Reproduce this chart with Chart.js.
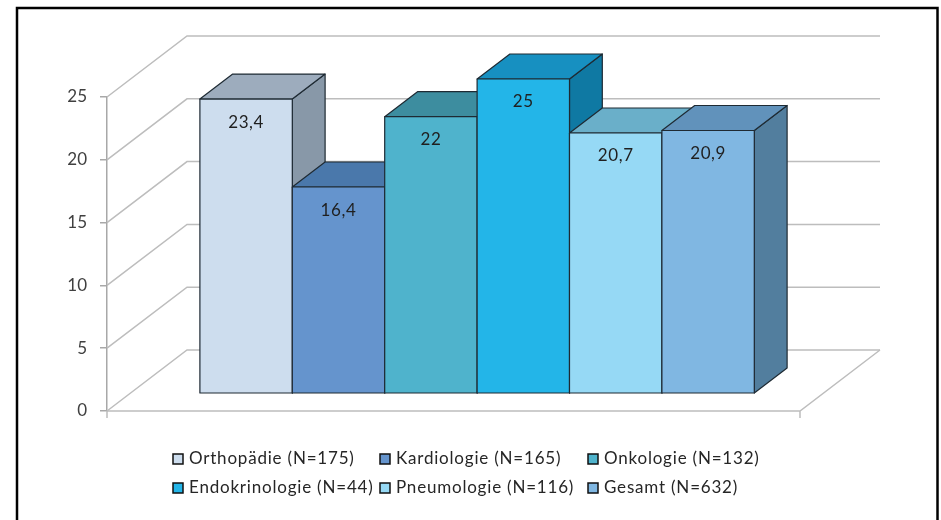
<!DOCTYPE html>
<html><head><meta charset="utf-8">
<script src="https://cdn.jsdelivr.net/npm/chart.js@4"></script>
<style>html,body{margin:0;padding:0;background:#fff}canvas{display:block}</style>
</head><body>
<canvas id="c" width="941" height="520"></canvas>
<script>
// Departments (series) and their values
const categories = ['Orthopädie (N=175)', 'Kardiologie (N=165)', 'Onkologie (N=132)', 'Endokrinologie (N=44)', 'Pneumologie (N=116)', 'Gesamt (N=632)'];
const values = [23.4, 16.4, 22, 25, 20.7, 20.9];
const yTicks = [0, 5, 10, 15, 20, 25];

// Face colours of each column: front, top, right side
const frontColors = ['#CDDDEE', '#6594CD', '#4FB3CC', '#23B5E8', '#96D9F5', '#80B7E2'];
const topColors   = ['#9DACBD', '#4A78AB', '#3D8D9F', '#1790C1', '#6AAFC9', '#6192BB'];
const sideColors  = ['#8898A8', '#3F6898', '#337A8A', '#0F79A3', '#5A97AD', '#527E9E'];

// 3D box: vector from the front axis plane to the back wall, and the column depth range
const DEPTH = { x: 80, y: -61 };
const BAR_FRONT = 0.295, BAR_BACK = 0.705;
const FONT = 'Lato, "Open Sans", sans-serif';
const fmt = v => String(v).replace('.', ',');

function poly(ctx, pts, fill) {
  ctx.beginPath();
  ctx.moveTo(pts[0][0], pts[0][1]);
  for (let k = 1; k < pts.length; k++) ctx.lineTo(pts[k][0], pts[k][1]);
  ctx.closePath();
  ctx.fillStyle = fill;
  ctx.fill();
  ctx.stroke();
}

const box3d = {
  id: 'box3d',
  beforeDraw(chart) {
    const ctx = chart.ctx;
    ctx.save();
    ctx.strokeStyle = '#000';
    ctx.lineWidth = 2.5;
    ctx.strokeRect(17, 8, 920.5, 600);
    ctx.restore();
  },
  beforeDatasetsDraw(chart) {
    const { ctx, chartArea: a, scales: { y } } = chart;
    ctx.save();
    // side wall diagonals and back wall grid
    ctx.strokeStyle = '#BDBDBD';
    ctx.lineWidth = 1.5;
    yTicks.forEach(v => {
      const py = y.getPixelForValue(v);
      ctx.beginPath();
      ctx.moveTo(a.left, py);
      ctx.lineTo(a.left + DEPTH.x, py + DEPTH.y);
      ctx.lineTo(a.right + DEPTH.x, py + DEPTH.y);
      ctx.stroke();
    });
    // floor edges
    const y0 = y.getPixelForValue(0);
    ctx.beginPath();
    ctx.moveTo(a.left, y0);
    ctx.lineTo(a.right, y0);
    ctx.lineTo(a.right + DEPTH.x, y0 + DEPTH.y);
    ctx.moveTo(a.right, y0);
    ctx.lineTo(a.right, y0 + 7);
    ctx.moveTo(a.left, y0);
    ctx.lineTo(a.left, y0 + 7);
    ctx.stroke();

    // columns, drawn left to right so each one hides the side of its neighbour
    const fx = BAR_FRONT * DEPTH.x, fy = BAR_FRONT * DEPTH.y;
    const bx = (BAR_BACK - BAR_FRONT) * DEPTH.x, by = (BAR_BACK - BAR_FRONT) * DEPTH.y;
    ctx.strokeStyle = '#1E2A33';
    ctx.lineWidth = 1.2;
    ctx.lineJoin = 'round';
    chart.data.datasets.forEach((ds, i) => {
      const meta = chart.getDatasetMeta(i);
      meta.data.forEach((bar, j) => {
        const v = ds.data[j];
        const half = bar.width / 2;
        const x0 = bar.x - half + fx, x1 = bar.x + half + fx;
        const yt = y.getPixelForValue(v) + fy, yb = y.getPixelForValue(0) + fy;
        poly(ctx, [[x1, yt], [x1 + bx, yt + by], [x1 + bx, yb + by], [x1, yb]], sideColors[i]);
        poly(ctx, [[x0, yt], [x1, yt], [x1 + bx, yt + by], [x0 + bx, yt + by]], topColors[i]);
        poly(ctx, [[x0, yt], [x1, yt], [x1, yb], [x0, yb]], frontColors[i]);
        ctx.fillStyle = '#1F1F1F';
        ctx.font = '17px ' + FONT;
        ctx.letterSpacing = '0.6px';
        ctx.textAlign = 'center';
        ctx.textBaseline = 'middle';
        ctx.fillText(fmt(v), (x0 + x1) / 2, yt + 23);
      });
    });
    ctx.restore();
    return false;
  },
  afterDraw(chart) {
    // legend laid out in three columns
    const ctx = chart.ctx;
    const colX = [173, 380, 588];
    const rowY = [459, 488];
    ctx.save();
    ctx.font = '17px ' + FONT;
    ctx.letterSpacing = '0.8px';
    ctx.textAlign = 'left';
    ctx.textBaseline = 'middle';
    chart.data.datasets.forEach((ds, i) => {
      const x = colX[i % 3], yy = rowY[Math.floor(i / 3)];
      ctx.fillStyle = ds.backgroundColor;
      ctx.fillRect(x, yy - 5, 10, 10);
      ctx.strokeStyle = '#111';
      ctx.lineWidth = 1.5;
      ctx.strokeRect(x, yy - 5, 10, 10);
      ctx.fillStyle = '#262626';
      ctx.fillText(ds.label, x + 16, yy);
    });
    ctx.restore();
  }
};

new Chart(document.getElementById('c'), {
  type: 'bar',
  data: {
    labels: [''],
    datasets: categories.map((c, i) => ({
      label: c,
      data: [values[i]],
      backgroundColor: frontColors[i],
      categoryPercentage: 0.8,
      barPercentage: 1
    }))
  },
  options: {
    responsive: false,
    animation: false,
    devicePixelRatio: 1,
    layout: { padding: { left: 20, top: 97, right: 141, bottom: 109 } },
    plugins: { legend: { display: false }, tooltip: { enabled: false } },
    scales: {
      x: { display: false },
      y: {
        min: 0, max: 25,
        afterFit: s => { s.width = 87; },
        ticks: { stepSize: 5, padding: 13, color: '#404040', font: { size: 17, family: FONT } },
        grid: { drawOnChartArea: false, tickLength: 7, color: '#A8A8A8', lineWidth: 1.5 },
        border: { color: '#A8A8A8', width: 1.5 }
      }
    }
  },
  plugins: [box3d]
});
</script>
</body></html>
